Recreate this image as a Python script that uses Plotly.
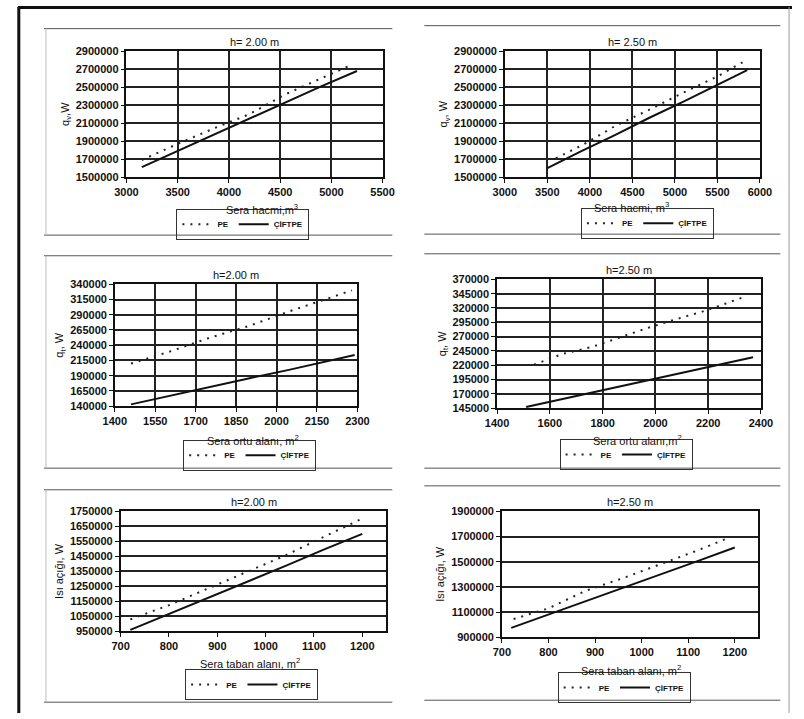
import plotly.graph_objects as go

W, H = 804, 719

# ---- data: heat requirement of single (PE) and double (ÇİFTPE) covered greenhouses ----
# Panel 1: by greenhouse volume, h = 2.00 m
vol200_x_pe = [3150, 3500, 3850, 4200, 4550, 4900, 5200]
vol200_pe = [1690000, 1870000, 2040000, 2200000, 2420000, 2600000, 2750000]
vol200_x_cift = [3150, 3500, 3850, 4200, 4550, 4900, 5250]
vol200_cift = [1610000, 1790000, 1970000, 2150000, 2330000, 2510000, 2680000]

# Panel 2: by greenhouse volume, h = 2.50 m
vol250_x_pe = [3600, 3900, 4300, 4700, 5100, 5500, 5800]
vol250_pe = [1710000, 1850000, 2070000, 2250000, 2440000, 2620000, 2780000]
vol250_x_cift = [3500, 3900, 4300, 4700, 5100, 5500, 5850]
vol250_cift = [1600000, 1790000, 1970000, 2160000, 2340000, 2530000, 2690000]

# Panel 3: by cover area, h = 2.00 m
cov200_x_pe = [1460, 1600, 1750, 1900, 2050, 2200, 2280]
cov200_pe = [210000, 229000, 252000, 272000, 296000, 318000, 330000]
cov200_x_cift = [1460, 1600, 1750, 1900, 2050, 2200, 2290]
cov200_cift = [143000, 157000, 171000, 186000, 200000, 215000, 224000]

# Panel 4: by cover area, h = 2.50 m
cov250_x_pe = [1540, 1650, 1760, 1840, 1970, 2060, 2180, 2250, 2340]
cov250_pe = [221000, 240000, 252000, 265000, 285000, 298000, 314000, 325000, 340000]
cov250_x_cift = [1510, 1650, 1800, 1950, 2100, 2250, 2370]
cov250_cift = [147000, 161000, 176000, 191000, 206000, 222000, 234000]

# Panel 5: by floor area, h = 2.00 m
flr200_x_pe = [720, 800, 880, 960, 1040, 1120, 1195]
flr200_pe = [1030000, 1125000, 1235000, 1345000, 1455000, 1580000, 1695000]
flr200_x_cift = [720, 800, 880, 960, 1040, 1120, 1200]
flr200_cift = [960000, 1065000, 1175000, 1280000, 1385000, 1495000, 1600000]

# Panel 6: by floor area, h = 2.50 m
flr250_x_pe = [725, 800, 880, 960, 1040, 1120, 1180]
flr250_pe = [1045000, 1130000, 1270000, 1370000, 1480000, 1590000, 1680000]
flr250_x_cift = [720, 800, 880, 960, 1040, 1120, 1200]
flr250_cift = [975000, 1080000, 1185000, 1295000, 1400000, 1505000, 1613000]

series_names = ["PE", "ÇİFTPE"]
titles = ["h= 2.00 m", "h= 2.50 m", "h=2.00 m", "h=2.50 m", "h=2.00 m", "h=2.50 m"]
x_titles = ["Sera hacmi,m<sup>3</sup>", "Sera hacmi, m<sup>3</sup>",
            "Sera ortu alanı, m<sup>2</sup>", "Sera ortu alanı,m<sup>2</sup>",
            "Sera taban alanı, m<sup>2</sup>", "Sera taban alanı, m<sup>2</sup>"]
y_titles = ["q<sub>v</sub>,W", "q<sub>v</sub>, W", "q<sub>t</sub>, W", "q<sub>t</sub>, W",
            "Isı açığı, W", "Isı açığı, W"]

# axis ranges / tick steps
x_ranges = [(3000, 5500, 500), (3000, 6000, 500), (1400, 2300, 150),
            (1400, 2400, 200), (700, 1250, 100), (700, 1250, 100)]
y_ranges = [(1500000, 2900000, 200000), (1500000, 2900000, 200000),
            (140000, 340000, 25000), (145000, 370000, 25000),
            (950000, 1750000, 100000), (900000, 1900000, 200000)]

panels = [
    (vol200_x_pe, vol200_pe, vol200_x_cift, vol200_cift),
    (vol250_x_pe, vol250_pe, vol250_x_cift, vol250_cift),
    (cov200_x_pe, cov200_pe, cov200_x_cift, cov200_cift),
    (cov250_x_pe, cov250_pe, cov250_x_cift, cov250_cift),
    (flr200_x_pe, flr200_pe, flr200_x_cift, flr200_cift),
    (flr250_x_pe, flr250_pe, flr250_x_cift, flr250_cift),
]

# plot-area boxes in pixels: (left, right, top, bottom)
boxes = [(118, 382, 46, 174), (508, 771, 46, 174),
         (106, 356, 283, 407), (500, 772, 278, 409),
         (112, 386, 514, 636), (505, 769, 514, 642)]
# x-axis title centres in pixels
xtitle_pos = [(258, 206), (639, 204), (248, 441), (645, 441), (245, 668), (638, 675)]
# legend centres in pixels
legend_pos = [(238, 222), (655, 221), (245, 457), (633, 456), (247, 690), (631, 693)]
# chart-frame horizontal rules (top y, bottom y, left x, right x)
frames = [(23, 233, 33, 392), (20, 232, 425, 792), (254, 470, 33, 392),
          (252, 470, 425, 792), (492, 708, 33, 392), (488, 706, 425, 792)]
vgrid = [True, True, True, True, False, False]


def fx(p):
    return p / W


def fy(p):
    return 1 - p / H


FONT = "Liberation Sans, Arial, sans-serif"
fig = go.Figure()
layout = dict(width=W, height=H, margin=dict(l=0, r=0, t=0, b=0),
              paper_bgcolor="white", plot_bgcolor="white",
              font=dict(family=FONT, color="#111", size=11))
annotations = []
shapes = []

for i, (xp, yp, xc, yc) in enumerate(panels):
    n = "" if i == 0 else str(i + 1)
    xa, ya = "x" + n, "y" + n
    leg = "legend" if i == 0 else "legend" + str(i + 1)
    fig.add_trace(go.Scatter(x=xp, y=yp, mode="lines", name=series_names[0],
                             line=dict(color="#222", width=2, dash="2px,6px"),
                             xaxis=xa, yaxis=ya, legend=leg))
    fig.add_trace(go.Scatter(x=xc, y=yc, mode="lines", name=series_names[1],
                             line=dict(color="#111", width=2),
                             xaxis=xa, yaxis=ya, legend=leg))
    l, r, t, b = boxes[i]
    x0, x1, dx = x_ranges[i]
    y0, y1, dy = y_ranges[i]
    layout["xaxis" + n] = dict(
        domain=[fx(l), fx(r)], range=[x0, x1], dtick=dx, tick0=x0,
        anchor=ya, showline=True, linecolor="#111", linewidth=1.5, mirror=True,
        ticks="outside", ticklen=4, tickcolor="#111",
        showgrid=vgrid[i], gridcolor="#222", gridwidth=1.5, zeroline=False,
        tickfont=dict(size=11, weight="bold"))
    layout["yaxis" + n] = dict(
        domain=[fy(b), fy(t)], range=[y0, y1], dtick=dy, tick0=y0,
        anchor=xa, showline=True, linecolor="#111", linewidth=1.5, mirror=True,
        ticks="outside", ticklen=4, tickcolor="#111",
        showgrid=True, gridcolor="#222", gridwidth=1.8, zeroline=False,
        tickformat="d", tickfont=dict(size=11, weight="bold"),
        title=dict(text=y_titles[i], font=dict(size=11), standoff=4))
    lx, ly = legend_pos[i]
    layout[leg] = dict(x=fx(lx), y=fy(ly), xanchor="center", yanchor="middle",
                       orientation="h", bordercolor="#333", borderwidth=1,
                       bgcolor="rgba(255,255,255,0)",
                       font=dict(size=8, weight="bold"), itemwidth=30)
    annotations.append(dict(text=titles[i], x=fx((l + r) / 2), y=fy(t - 1),
                            xref="paper", yref="paper", xanchor="center",
                            yanchor="bottom", showarrow=False,
                            font=dict(size=11)))
    tx, ty = xtitle_pos[i]
    annotations.append(dict(text=x_titles[i], x=fx(tx), y=fy(ty),
                            xref="paper", yref="paper", xanchor="center",
                            yanchor="middle", showarrow=False,
                            font=dict(size=11)))
    ft, fb, fl, fr = frames[i]
    for yy in (ft, fb):
        shapes.append(dict(type="line", xref="paper", yref="paper",
                           x0=fx(fl), x1=fx(fr), y0=fy(yy), y1=fy(yy),
                           line=dict(color="#555", width=1)))
    if i % 2 == 0:
        shapes.append(dict(type="line", xref="paper", yref="paper",
                           x0=fx(fl + 2), x1=fx(fl + 2), y0=fy(ft), y1=fy(fb),
                           line=dict(color="#bbb", width=1)))

# outer figure frame
shapes.append(dict(type="line", xref="paper", yref="paper", x0=fx(7), x1=fx(7),
                   y0=fy(1), y1=fy(719), line=dict(color="#111", width=3)))
shapes.append(dict(type="line", xref="paper", yref="paper", x0=fx(6), x1=fx(804),
                   y0=fy(1.5), y1=fy(1.5), line=dict(color="#111", width=3)))
shapes.append(dict(type="line", xref="paper", yref="paper", x0=fx(801), x1=fx(801),
                   y0=fy(1), y1=fy(719), line=dict(color="#999", width=1)))

layout["annotations"] = annotations
layout["shapes"] = shapes
fig.update_layout(**layout)
fig.write_html("out.html")
